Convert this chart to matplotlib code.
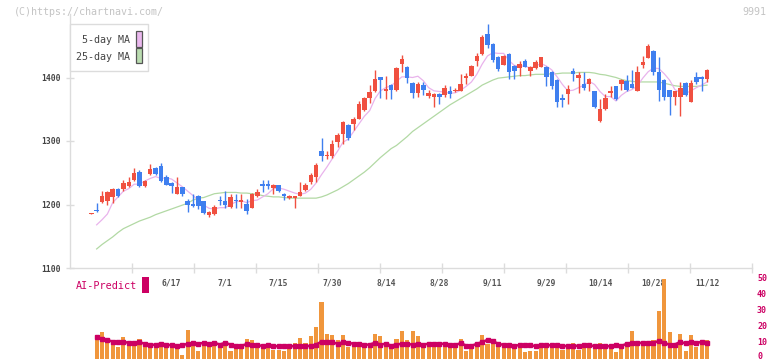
import matplotlib
matplotlib.use("Agg")
import matplotlib.pyplot as plt
import numpy as np
from matplotlib.patches import Rectangle

plt.rcParams['font.family'] = ['DejaVu Sans Mono']

nan = float('nan')

# ---- candle data (116 trading days, ending 11/12) ----
opens = [1185,1192,1204,1205,1212,1225,1224,1229,1239,1251,
         1229,1248,1258,1261,1243,1234,1217,1227,1206,1200,
         1214,1205,1183,1185,1207,1206,1196,1207,1204,1201,
         1195,1213,1233,1233,1226,1230,1217,1210,1210,1214,
         1223,1235,1243,1285,1277,1276,1299,1311,1325,1327,
         1335,1349,1367,1378,1400,1378,1388,1380,1421,1417,
         1392,1376,1388,1371,1369,1374,1372,1378,1378,1379,
         1400,1403,1426,1437,1468,1453,1432,1420,1437,1418,
         1415,1426,1411,1415,1417,1417,1409,1396,1368,1374,
         1411,1400,1390,1389,1378,1331,1350,1376,1386,1389,
         1395,1390,1379,1419,1431,1442,1409,1396,1380,1370,
         1370,1392,1362,1400,1401,1397]
highs = [1187,1203,1221,1222,1226,1226,1239,1244,1258,1254,
         1238,1264,1259,1265,1247,1235,1243,1228,1208,1216,
         1215,1206,1190,1200,1214,1222,1217,1216,1216,1209,
         1218,1225,1239,1239,1232,1231,1218,1215,1214,1236,
         1234,1249,1266,1304,1285,1302,1312,1331,1326,1338,
         1363,1369,1388,1412,1401,1402,1389,1416,1435,1418,
         1393,1393,1393,1380,1376,1375,1388,1386,1384,1405,
         1407,1419,1438,1467,1484,1454,1434,1435,1438,1419,
         1426,1429,1418,1427,1433,1418,1410,1397,1374,1388,
         1415,1409,1409,1400,1379,1366,1374,1386,1387,1398,
         1404,1412,1418,1434,1453,1443,1433,1397,1381,1379,
         1393,1393,1396,1409,1402,1413]
lows = [1185,1188,1203,1200,1203,1212,1222,1227,1237,1228,
        1228,1247,1246,1236,1230,1218,1216,1213,1188,1196,
        1193,1185,1180,1184,1200,1194,1194,1195,1194,1185,
        1194,1212,1219,1224,1216,1220,1207,1209,1195,1213,
        1221,1233,1236,1268,1272,1273,1291,1296,1302,1318,
        1334,1348,1360,1377,1368,1366,1366,1379,1409,1392,
        1368,1370,1372,1368,1353,1359,1370,1367,1377,1378,
        1389,1402,1418,1435,1447,1425,1411,1419,1398,1398,
        1402,1416,1403,1414,1416,1386,1382,1354,1354,1358,
        1394,1376,1380,1379,1352,1330,1349,1370,1365,1380,
        1379,1383,1378,1415,1430,1404,1363,1365,1341,1357,
        1340,1371,1361,1390,1379,1393]
closes = [1187,1190,1213,1219,1225,1214,1234,1235,1250,1229,
          1237,1256,1248,1237,1231,1229,1227,1217,1199,1197,
          1197,1187,1188,1196,1205,1200,1212,1205,1207,1189,
          1216,1220,1229,1229,1230,1221,1213,1214,1213,1219,
          1230,1246,1262,1277,1278,1296,1309,1330,1304,1335,
          1358,1368,1377,1397,1396,1382,1381,1415,1429,1400,
          1376,1390,1380,1376,1374,1370,1383,1374,1381,1390,
          1401,1418,1434,1464,1451,1427,1413,1434,1408,1411,
          1422,1417,1417,1424,1432,1401,1387,1362,1365,1382,
          1405,1404,1383,1398,1353,1350,1368,1379,1366,1396,
          1380,1384,1409,1424,1450,1408,1380,1370,1370,1378,
          1384,1372,1392,1393,1398,1412]

ma5 = [nan,1168,1176,1185,1203,1212,1221,1225,1232,1232,
       1237,1241,1244,1241,1242,1240,1234,1228,1221,1214,
       1207,1199,1194,1193,1195,1195,1200,1204,1206,1203,
       1206,1207,1212,1217,1225,1226,1224,1221,1218,1216,
       1218,1224,1234,1247,1259,1272,1284,1298,1303,1315,
       1327,1339,1348,1367,1379,1384,1387,1394,1401,1401,
       1400,1402,1395,1384,1379,1378,1377,1375,1376,1380,
       1386,1393,1405,1421,1434,1439,1438,1438,1427,1419,
       1418,1418,1415,1418,1422,1418,1412,1401,1389,1379,
       1380,1384,1388,1394,1389,1378,1370,1370,1363,1372,
       1378,1381,1387,1399,1409,1415,1414,1406,1396,1381,
       1376,1375,1379,1384,1388,1393]
ma25 = [nan,1130,1137,1143,1149,1156,1162,1166,1170,1174,
        1177,1180,1184,1187,1190,1193,1196,1199,1202,1207,
        1210,1211,1214,1217,1218,1219,1219,1219,1218,1218,
        1217,1216,1214,1213,1212,1212,1211,1210,1210,1210,
        1210,1210,1210,1212,1215,1219,1223,1228,1233,1239,
        1245,1251,1258,1266,1274,1281,1288,1293,1300,1307,
        1315,1321,1327,1333,1339,1345,1351,1357,1362,1367,
        1372,1377,1382,1388,1392,1396,1399,1400,1401,1402,
        1403,1403,1404,1405,1405,1405,1406,1406,1407,1407,
        1407,1408,1408,1408,1407,1405,1404,1402,1400,1397,
        1395,1394,1393,1393,1393,1393,1393,1391,1389,1387,
        1386,1386,1386,1386,1387,1388]

# ---- lower panel (days 2..116) ----
volume = [15.0,16.3,10.4,10.0,7.1,13.3,9.8,9.4,11.9,7.1,
          7.1,6.3,9.2,7.7,8.8,7.1,2.5,18.1,8.3,4.4,
          9.8,7.1,9.2,6.3,9.4,5.0,7.5,7.5,12.5,11.3,
          8.8,7.7,7.1,5.6,5.6,5.0,6.3,9.4,13.1,9.4,
          13.8,20.0,35.6,15.6,14.4,11.3,15.0,7.5,8.8,9.4,
          8.3,10.0,15.6,13.8,7.5,7.5,12.5,16.9,11.3,17.5,
          13.8,10.0,9.2,10.6,9.4,6.9,6.9,6.9,11.9,4.4,
          6.9,8.1,14.4,8.8,8.8,8.1,7.5,6.9,6.3,8.1,
          3.8,5.0,5.0,6.9,8.1,6.9,8.1,5.6,6.3,9.4,
          5.6,6.3,6.9,8.1,9.4,6.3,7.5,3.8,8.1,7.5,
          17.5,8.1,9.4,9.4,11.3,29.4,50.0,16.3,7.5,15.6,
          5.0,14.4,6.9,8.8,11.3]
ai_predict = [13.3,11.9,11.5,10.6,10.4,10.4,9.8,9.8,10.2,9.2,
              8.3,8.75,9.2,8.3,8.5,7.7,8.3,9.2,9.6,9.2,
              9.8,9.2,9.8,8.75,9.8,8.75,7.9,7.9,9.0,8.5,
              8.3,7.9,8.3,7.7,7.7,7.7,7.7,7.7,7.7,7.7,
              7.9,8.75,10.6,10.4,10.2,9.2,10.2,9.8,9.2,9.2,
              8.5,8.75,9.8,8.75,9.2,8.1,8.75,9.2,9.0,8.75,
              9.2,8.75,9.2,9.2,9.2,9.2,8.3,8.5,9.6,8.1,
              7.9,9.2,10.2,11.7,10.8,9.2,8.5,8.3,8.1,8.3,
              8.3,8.3,7.7,8.3,8.3,8.3,8.3,7.7,7.9,7.9,
              7.9,8.5,8.3,7.7,7.7,7.7,7.7,8.5,7.9,9.2,
              9.8,9.6,9.8,9.6,9.8,11.0,10.0,8.5,8.75,10.4,
              9.4,10.4,9.4,10.6,9.4]

date_labels = ['6/17', '7/1', '7/15', '7/30', '8/14', '8/28',
               '9/11', '9/29', '10/14', '10/28', '11/12']
date_label_idx = [15, 25, 35, 45, 55, 65, 75, 85, 95, 105, 115]
price_ticks = [1100, 1200, 1300, 1400]
right_ticks = [0, 10, 20, 30, 40, 50]

UP = '#f05040'
DOWN = '#3f7fef'
GRID = '#dcdcdc'
CRIMSON = '#cc0063'

W, H = 772, 361
fig = plt.figure(figsize=(W / 100, H / 100), dpi=100)

x0, x1 = 70, 752
XL = (-3.98, 123.4)

ax = fig.add_axes([x0 / W, (H - 268) / H, (x1 - x0) / W, (268 - 14) / H])
ax.set_xlim(*XL)
ax.set_ylim(1100, 1500)
for s in ['top', 'right']:
    ax.spines[s].set_visible(False)
for s in ['left', 'bottom']:
    ax.spines[s].set_color(GRID)
    ax.spines[s].set_linewidth(1.0)

idx = np.arange(len(closes))
ax.plot(idx, ma25, color='#b2d9a4', lw=0.9, zorder=1)
ax.plot(idx, ma5, color='#e9b3ec', lw=0.9, zorder=1)

o = np.array(opens, float); c = np.array(closes, float)
h = np.array(highs, float); l = np.array(lows, float)
colors = [UP if cc >= oo else DOWN for oo, cc in zip(o, c)]
ax.vlines(idx, l, h, colors=colors, lw=1.0, zorder=2)
bottom = np.minimum(o, c)
height = np.maximum(np.abs(c - o), 1.6)
ax.bar(idx, height, bottom=bottom, width=0.84, color=colors, zorder=3, linewidth=0)

ax.set_yticks(price_ticks)
ax.set_yticklabels([str(t) for t in price_ticks])
ax.tick_params(axis='y', direction='inout', length=6, width=1, color=GRID,
               labelsize=5.8, labelcolor='#444444', pad=4)
for t in ax.get_yticklabels():
    t.set_fontweight('bold')

span = XL[1] - XL[0]
ax.set_xticks([XL[0] + k * span / 11 for k in range(1, 12)])
ax.set_xticklabels([])
ax.tick_params(axis='x', which='major', direction='inout', length=7, width=1, color=GRID)
ax.set_xticks(date_label_idx, minor=True)
ax.set_xticklabels(date_labels, minor=True)
ax.tick_params(axis='x', which='minor', length=0, labelsize=5.8,
               labelcolor='#555555', pad=7.5)
for t in ax.get_xticklabels(minor=True):
    t.set_fontweight('bold')

# lower panel
bax = fig.add_axes([x0 / W, (H - 358.5) / H, (x1 - x0) / W, 80 / H])
bax.set_xlim(*XL)
bax.set_ylim(0, 50)
for s in bax.spines.values():
    s.set_visible(False)
bidx = np.arange(1, len(volume) + 1)
bax.bar(bidx, volume, width=0.76, color='#f0963c', linewidth=0, clip_on=False, zorder=1)
bax.plot(bidx, ai_predict, color=CRIMSON, lw=1.8, marker='s', ms=2.6,
         mec=CRIMSON, mfc=CRIMSON, zorder=2, clip_on=False)
bax.set_xticks([])
bax.set_yticks([])
bax.patch.set_alpha(0)

# overlay for annotations
ov = fig.add_axes([0, 0, 1, 1], zorder=10)
ov.set_xlim(0, W)
ov.set_ylim(H, 0)
ov.axis('off')
ov.patch.set_alpha(0)

# right-hand scale of the lower panel, placed from the panel's own data scale
for v in right_ticks:
    px = bax.transData.transform((0, v))[1]
    ypix = min(H - px, 356.8)
    ov.text(757, ypix, str(v), fontsize=6, color=CRIMSON, fontweight='bold',
            ha='left', va='center')

ov.text(14, 12, '(C)https://chartnavi.com/', fontsize=7.2, color='#c4c4c4',
        ha='left', va='center')
ov.text(766, 12, '9991', fontsize=7.2, color='#c4c4c4', ha='right', va='center')

ov.add_patch(Rectangle((70, 24), 78, 47, fc='white', ec=GRID, lw=1))
ov.text(130, 40, '5-day MA', fontsize=7.2, color='#444444', ha='right', va='center')
ov.text(130, 57, '25-day MA', fontsize=7.2, color='#444444', ha='right', va='center')
ov.add_patch(Rectangle((136, 31), 6, 16, fc='#eab8ee', ec='#555555', lw=0.9))
ov.add_patch(Rectangle((136, 48), 6, 15, fc='#badcb0', ec='#555555', lw=0.9))

ov.text(76, 286, 'AI-Predict', fontsize=7.3, color=CRIMSON, ha='left', va='center')
ov.add_patch(Rectangle((142, 277), 7, 16, fc=CRIMSON, ec='none'))

fig.savefig('out.png', dpi=100)
